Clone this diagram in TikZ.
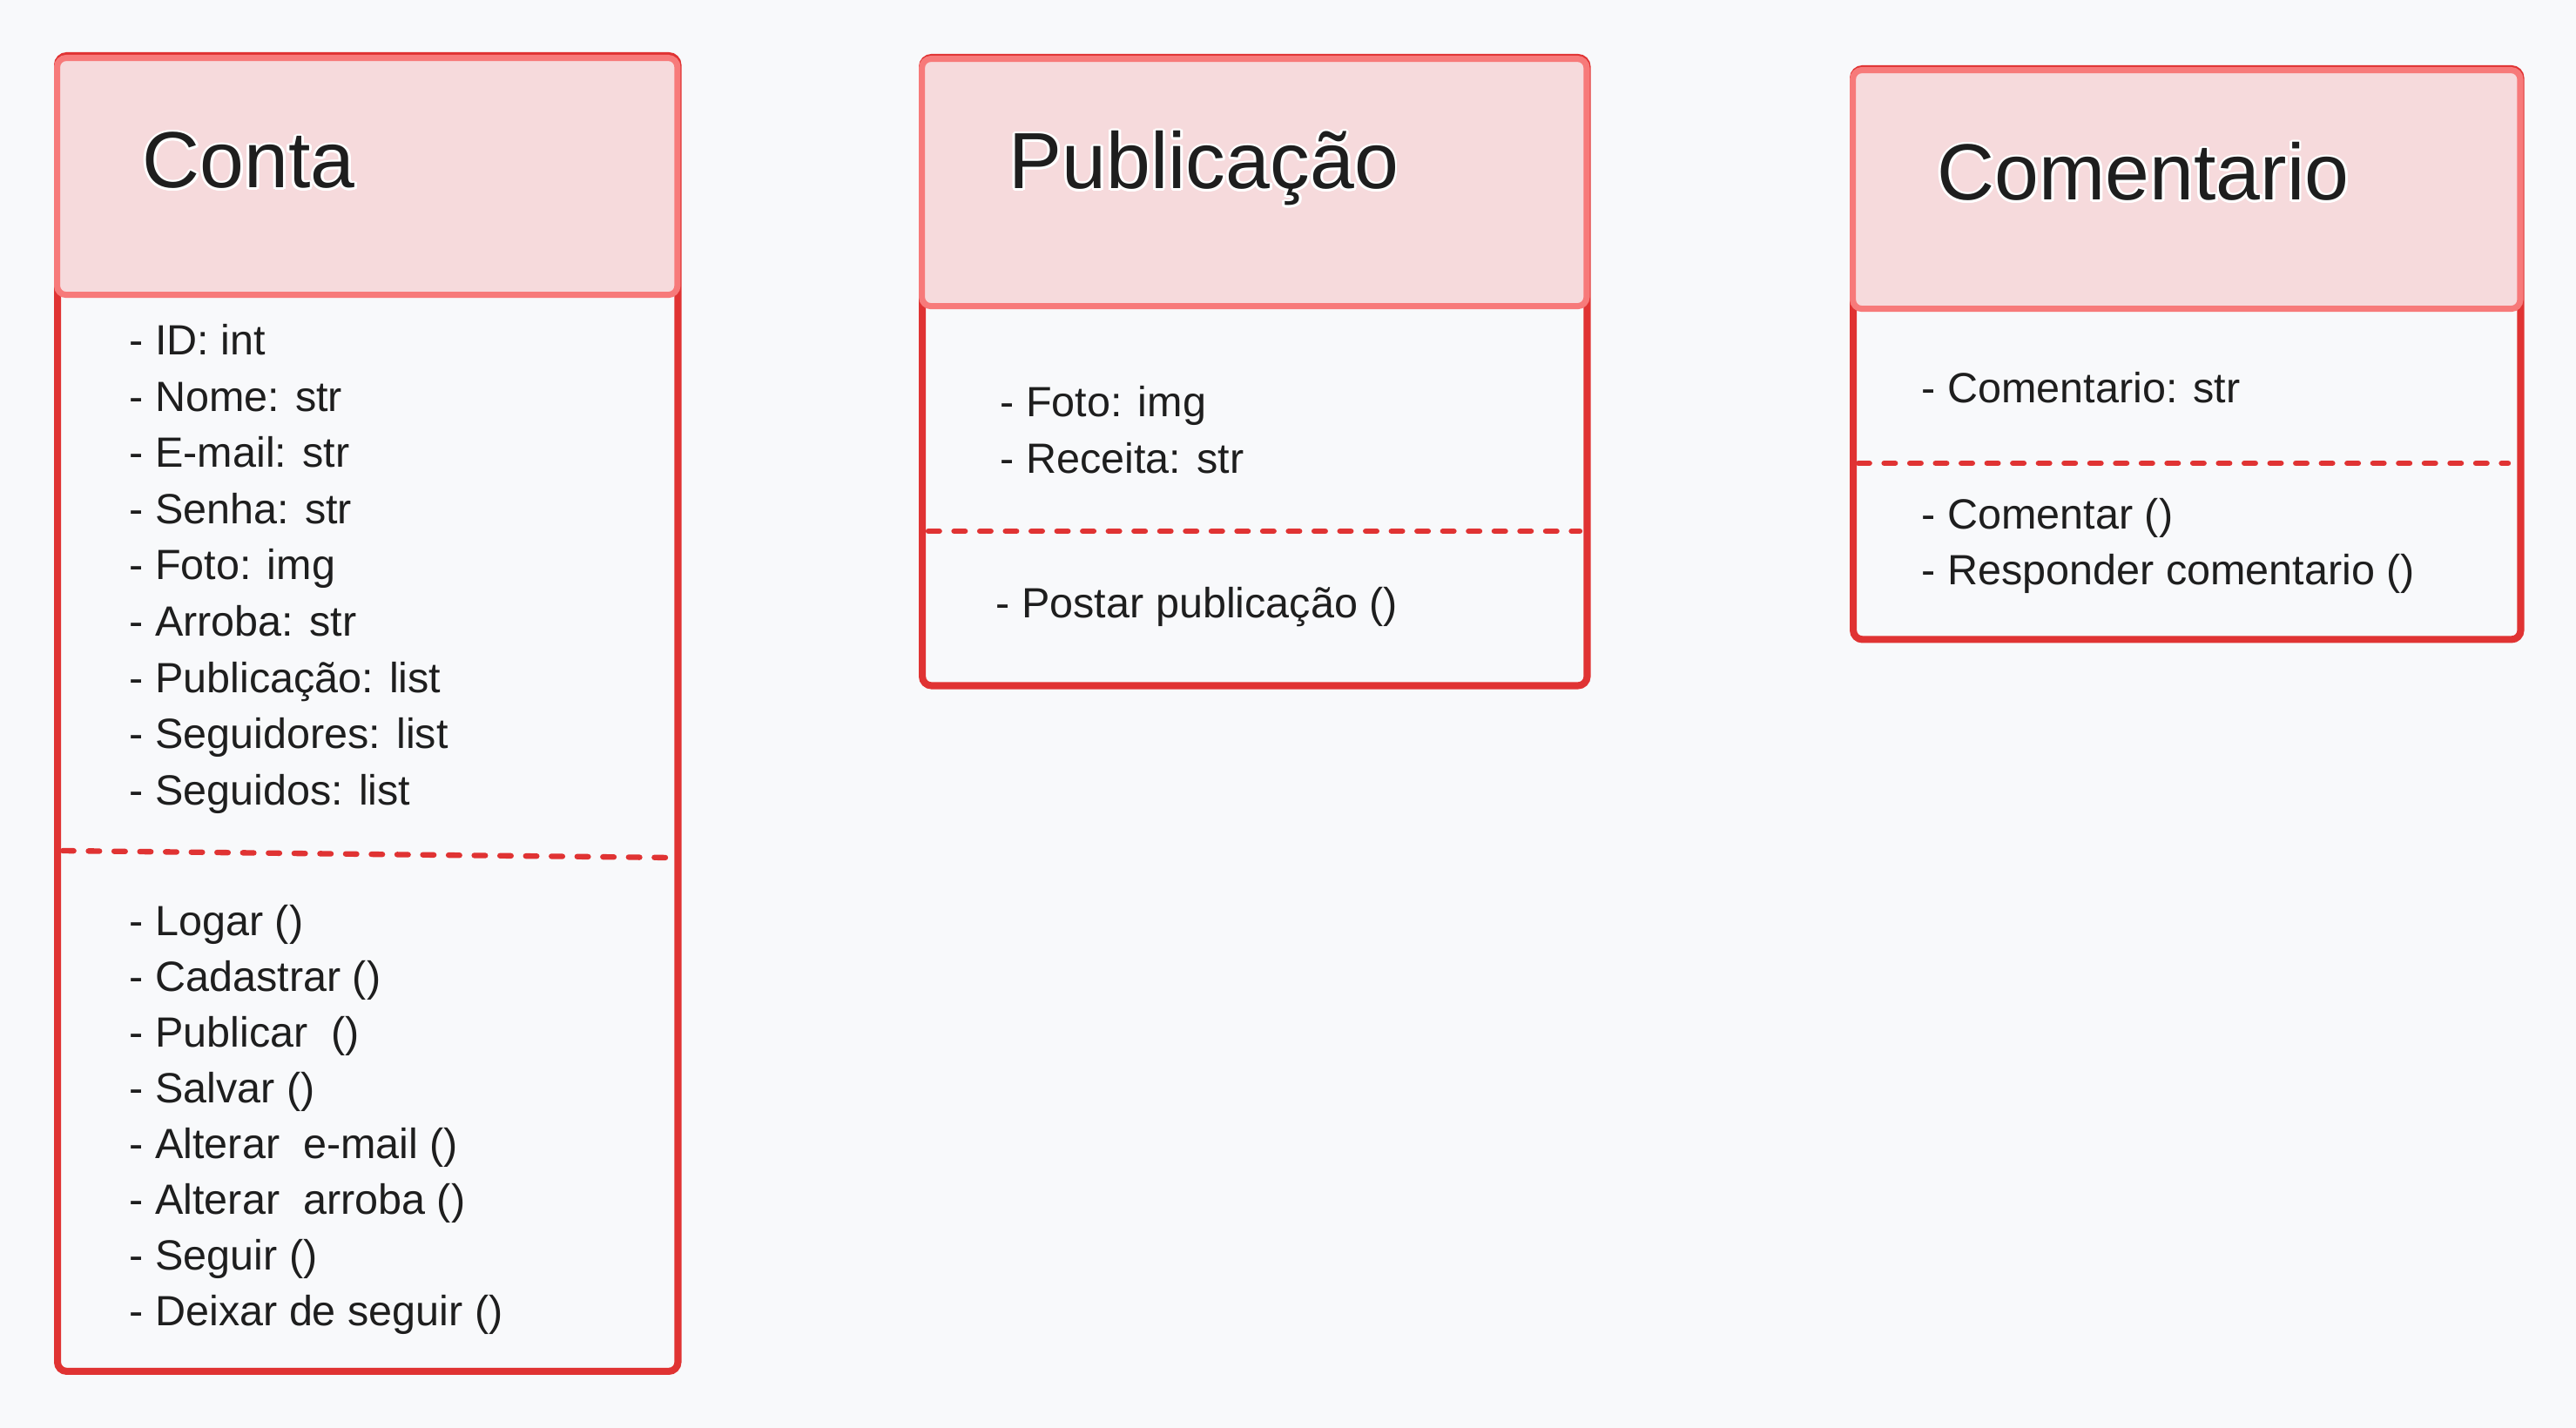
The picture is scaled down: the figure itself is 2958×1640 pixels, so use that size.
\documentclass[tikz,border=0pt]{standalone}
\usepackage{fontspec}
\setmainfont{Liberation Sans}
\usepackage[copies]{contour}
\contourlength{0.8pt}
\usetikzlibrary{positioning,calc}
\definecolor{randrood}{HTML}{E03333}
\definecolor{koprood}{HTML}{F77A7A}
\definecolor{kopvul}{HTML}{F6DADC}
\definecolor{achtergrond}{HTML}{F8F9FB}
\definecolor{inkt}{HTML}{1E1E1E}

\begin{document}
\begin{tikzpicture}[x=0.01cm, y=-0.01cm,
  klasse/.style={draw=randrood, line width=2.3pt, rounded corners=3pt, fill=achtergrond, anchor=north west, inner sep=0pt},
  kop/.style={draw=koprood, line width=2pt, rounded corners=3pt, fill=kopvul, anchor=north west, inner sep=0pt},
  titel/.style={anchor=base west, inner sep=0pt, text=inkt, font=\fontsize{26}{30}\selectfont},
  veld/.style={anchor=base west, inner sep=0pt, text=inkt, font=\fontsize{13.8}{16}\selectfont},
  scheiding/.style={draw=randrood, line width=1.8pt, line cap=round, dash pattern=on 3.6pt off 4.8pt}]
  \def\regel{64.5} % regelafstand

  % achtergrond
  \fill[achtergrond] (0,0) rectangle (2958,1640);
  \useasboundingbox (0,0) rectangle (2958,1640);

  % klasse Conta
  \node[klasse, minimum width=7.12cm, minimum height=15.10cm] (conta) at (62,60) {};
  \node[kop, minimum width=7.12cm, minimum height=2.72cm] (contaKop) at (62,63) {};
  \node[titel] (contaTitel) at (163,216) {\contour{white}{Conta}};
  \foreach \tekst [count=\i] in {ID: int, Nome: str, E-mail: str, Senha: str, Foto: img,
      Arroba: str, Publicação: list, Seguidores: list, Seguidos: list}
    \node[veld] (contaAttr\i) at (148,{408+(\i-1)*\regel}) {- \tekst};
  \coordinate (contaDL) at (72,977);
  \coordinate (contaDR) at (770,985);
  \draw[scheiding] (contaDL) -- (contaDR);
  \foreach \tekst [count=\i] in {Logar (), Cadastrar (), Publicar\ \ (), Salvar (),
      Alterar\ \ e-mail (), Alterar\ \ arroba (), Seguir (), Deixar de seguir ()}
    \node[veld] (contaMet\i) at (148,{1074+(\i-1)*64.1}) {- \tekst};

  % klasse Publicação
  \node[klasse, minimum width=7.63cm, minimum height=7.21cm] (pub) at (1055,62) {};
  \node[kop, minimum width=7.63cm, minimum height=2.84cm] (pubKop) at (1055,64) {};
  \node[titel] (pubTitel) at (1158,217) {\contour{white}{Publicação}};
  \foreach \tekst [count=\i] in {Foto: img, Receita: str}
    \node[veld] (pubAttr\i) at (1148,{479+(\i-1)*\regel}) {- \tekst};
  \coordinate (pubDL) at (1066,610);
  \coordinate (pubDR) at (1814,610);
  \draw[scheiding] (pubDL) -- (pubDR);
  \node[veld] (pubMet1) at (1143,709) {- Postar publicação ()};

  % klasse Comentario
  \node[klasse, minimum width=7.66cm, minimum height=6.55cm] (com) at (2124,75) {};
  \node[kop, minimum width=7.66cm, minimum height=2.74cm] (comKop) at (2124,77) {};
  \node[titel] (comTitel) at (2224,230) {\contour{white}{Comentario}};
  \node[veld] (comAttr1) at (2206,463) {- Comentario: str};
  \coordinate (comDL) at (2134,532);
  \coordinate (comDR) at (2880,532);
  \draw[scheiding] (comDL) -- (comDR);
  \foreach \tekst [count=\i] in {Comentar (), Responder comentario ()}
    \node[veld] (comMet\i) at (2206,{607+(\i-1)*\regel}) {- \tekst};
\end{tikzpicture}
\end{document}
